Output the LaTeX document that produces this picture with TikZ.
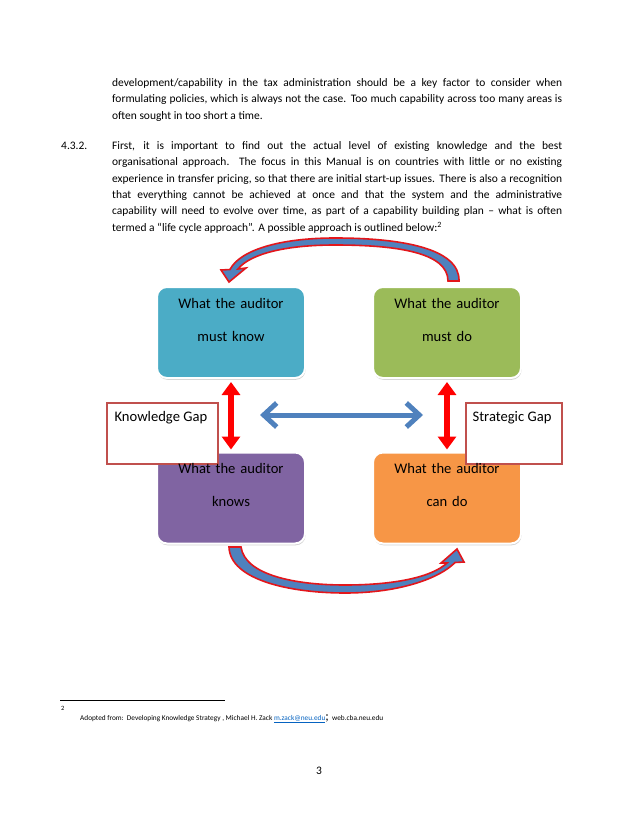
\documentclass[tikz,border=0pt]{standalone}
\usepackage{fontspec}
\setmainfont{Carlito}
\usetikzlibrary{arrows.meta, positioning, shadows}

\definecolor{knowblue}{HTML}{4BACC6}
\definecolor{dogreen}{HTML}{9BBB59}
\definecolor{knowspurple}{HTML}{8064A2}
\definecolor{candoorange}{HTML}{F79646}
\definecolor{gapborder}{HTML}{C0504D}
\definecolor{cycleblue}{HTML}{4F81BD}
\definecolor{cyclered}{HTML}{E3161B}
\definecolor{linkblue}{HTML}{0563C1}

\begin{document}
\begin{tikzpicture}[
    x=1pt, y=-1pt,
    bodytext/.style={anchor=base west, inner sep=0pt, text width=450pt, align=justify, font=\fontsize{11.47}{16.4}\selectfont},
    stage/.style={rectangle, rounded corners=10pt, draw=white, line width=2pt, minimum width=148pt, minimum height=91pt, drop shadow={shadow xshift=0.6pt, shadow yshift=-1.8pt, opacity=0.35}},
    stagetext/.style={anchor=base, inner sep=0pt, text width=148pt, align=center, font=\fontsize{14.6}{33}\selectfont},
    gapbox/.style={rectangle, draw=gapborder, line width=1.2pt, fill=white, minimum height=61pt},
    gaptext/.style={anchor=base west, inner sep=0pt, font=\fontsize{14.6}{17}\selectfont},
    gaparrow/.style={{Triangle[width=18pt,length=13pt]}-{Triangle[width=18pt,length=13pt]}, red, line width=6pt, shorten <=3pt, shorten >=2pt},
    linkarrow/.style={{Straight Barb[width=24pt,length=13pt]}-{Straight Barb[width=24pt,length=13pt]}, cycleblue, line width=5pt},
    cyclearrow/.style={fill=cycleblue, draw=cyclered, line width=1.6pt, line join=miter}
]
\useasboundingbox (0,0) rectangle (638,826);
\fill[white] (0,0) rectangle (638,826);

% running text
\node[bodytext] (para1) at (112,86.5) {development/capability in the tax administration should be a key factor to consider when\linebreak
formulating policies, which is always not the case. Too much capability across too many areas is\linebreak
often sought in too short a time.};
\node[anchor=base west, inner sep=0pt, font=\fontsize{11.47}{16.4}\selectfont] (secnum) at (61,149.3) {4.3.2.};
\node[bodytext] (para2) at (112,149.3) {First, it is important to find out the actual level of existing knowledge and the best\linebreak
organisational approach.\ \ The focus in this Manual is on countries with little or no existing\linebreak
experience in transfer pricing, so that there are initial start-up issues. There is also a recognition\linebreak
that everything cannot be achieved at once and that the system and the administrative\linebreak
capability will need to evolve over time, as part of a capability building plan – what is often\linebreak
termed a “life cycle approach”. A possible approach is outlined below:\textsuperscript{2}};

% life cycle arrows
\draw[cyclearrow] (459,281) .. controls (460,248) and (400,238) .. (335,238)
    .. controls (280,238) and (240,250) .. (230,269.5) -- (221,270) -- (229,282) -- (246,268) -- (238,269)
    .. controls (250,254) and (285,245) .. (335,245) .. controls (395,245) and (448,252) .. (448,281) -- cycle;
\draw[cyclearrow] (229,547) .. controls (230,580) and (290,593) .. (345,593)
    .. controls (400,593) and (440,578) .. (455,562.5) -- (464,562) -- (457,549) -- (441,563) -- (447,563)
    .. controls (432,577) and (395,585) .. (345,585) .. controls (295,585) and (245,575) .. (241,547) -- cycle;

% stages
\node[stage, fill=knowblue] (mustknow) at (231,332.5) {};
\node[stage, fill=dogreen] (mustdo) at (447,332.5) {};
\node[stage, fill=knowspurple] (knows) at (231,498) {};
\node[stage, fill=candoorange] (cando) at (447,498) {};

\draw[gaparrow] (mustknow) -- (knows);
\draw[gaparrow] (mustdo) -- (cando);
\coordinate (linkL) at (260,415);
\coordinate (linkR) at (423,415);
\draw[linkarrow] (linkL) -- (linkR);

% gaps
\node[gapbox, minimum width=111pt] (kgap) at (162.5,433.5) {};
\node[gapbox, minimum width=96pt] (sgap) at (514,433.5) {};
\node[gaptext] (kgaptext) at ([xshift=8pt, yshift=-19pt]kgap.north west) {Knowledge Gap};
\node[gaptext] (sgaptext) at ([xshift=7pt, yshift=-19pt]sgap.north west) {Strategic Gap};

\node[stagetext] (mustknowtext) at ([yshift=-22pt]mustknow.north) {What the auditor\\must know};
\node[stagetext] (mustdotext) at ([yshift=-22pt]mustdo.north) {What the auditor\\must do};
\node[stagetext] (knowstext) at ([yshift=-22pt]knows.north) {What the auditor\\knows};
\node[stagetext] (candotext) at ([yshift=-22pt]cando.north) {What the auditor\\can do};

% footnote and page number
\draw[line width=0.6pt] (60,700) -- (225,700);
\node[anchor=base west, inner sep=0pt, font=\fontsize{6.5}{7}\selectfont] (fnmark) at (61,710) {2};
\node[anchor=base west, inner sep=0pt, font=\fontsize{7.3}{9}\selectfont] (fntext) at (80,720) {Adopted from:\ \ Developing Knowledge Strategy , Michael H. Zack \textcolor{linkblue}{\underline{m.zack@neu.edu}}{\fontsize{13}{13}\selectfont;}\ \ web.cba.neu.edu};
\node[anchor=base, inner sep=0pt, font=\fontsize{11.47}{13}\selectfont] (pagenum) at (319,774) {3};
\end{tikzpicture}
\end{document}
